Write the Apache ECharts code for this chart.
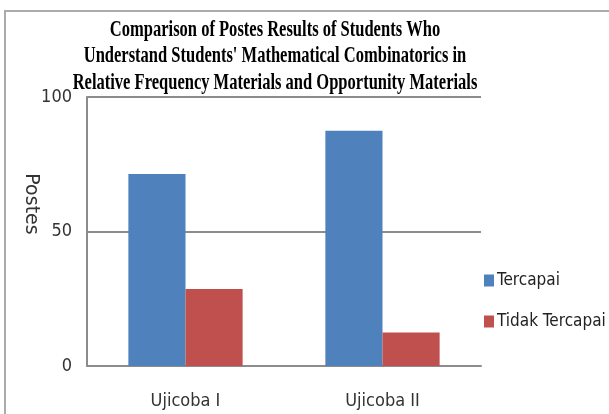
<!DOCTYPE html>
<html>
<head>
<meta charset="utf-8">
<script src="https://cdn.jsdelivr.net/npm/echarts@6/dist/echarts.min.js"></script>
<style>
html,body{margin:0;padding:0;background:#fff;}
#chart{width:609px;height:414px;}
</style>
</head>
<body>
<div id="chart"></div>
<script>
const titleLines = [
  "Comparison of Postes Results of Students Who",
  "Understand Students' Mathematical Combinatorics in",
  "Relative Frequency Materials and Opportunity Materials"
];
const categories = ["Ujicoba I", "Ujicoba II"];
const seriesNames = ["Tercapai", "Tidak Tercapai"];
const tercapai = [71.4, 87.5];
const tidakTercapai = [28.6, 12.5];
const yAxisName = "Postes";

const chart = echarts.init(document.getElementById('chart'), null, {renderer: 'canvas'});
const sansFont = '"DejaVu Sans Condensed", "Liberation Sans Narrow", "DejaVu Sans", sans-serif';
const titleY = [29.5, 56, 83];
const graphics = [
  {type: 'rect', shape: {x: 5, y: 11, width: 700, height: 500}, style: {fill: null, stroke: '#ababab', lineWidth: 2}, z: -10, silent: true}
];
titleLines.forEach((t, i) => {
  graphics.push({
    type: 'text', x: 275, y: titleY[i], scaleX: 0.688,
    style: {text: t, textAlign: 'center', textVerticalAlign: 'middle',
      font: 'bold 24px "Liberation Serif", "Times New Roman", serif', fill: '#000'}
  });
});
graphics.push({
  type: 'text', x: 31, y: 204, rotation: -Math.PI / 2,
  style: {text: yAxisName, textAlign: 'center', textVerticalAlign: 'middle',
    font: '19px "DejaVu Sans", sans-serif', fill: '#333'}
});

chart.setOption({
  animation: false,
  backgroundColor: '#fff',
  grid: {left: 87, right: 128, top: 97, bottom: 48},
  graphic: graphics,
  legend: {
    orient: 'vertical', left: 479, top: 267,
    itemWidth: 10, itemHeight: 12, itemGap: 24,
    icon: 'rect',
    textStyle: {fontSize: 17, fontFamily: sansFont, color: '#222', padding: [0,0,0,-2]},
    data: seriesNames
  },
  xAxis: {
    type: 'category', data: categories,
    axisTick: {show: false},
    axisLine: {lineStyle: {color: '#8c8c8c', width: 2}},
    axisLabel: {fontSize: 18, fontFamily: sansFont, color: '#333', margin: 26}
  },
  yAxis: {
    type: 'value', min: 0, max: 100, interval: 50,
    axisLine: {show: true, lineStyle: {color: '#8c8c8c', width: 2}},
    axisTick: {show: false},
    splitLine: {lineStyle: {color: '#8c8c8c', width: 2}},
    axisLabel: {fontSize: 18, fontFamily: sansFont, color: '#333', margin: 15}
  },
  series: [
    {name: seriesNames[0], type: 'bar', data: tercapai, barGap: '0%', barCategoryGap: '42%',
      itemStyle: {color: '#4f81bd'}},
    {name: seriesNames[1], type: 'bar', data: tidakTercapai,
      itemStyle: {color: '#c0504d'}}
  ]
});
</script>
</body>
</html>
